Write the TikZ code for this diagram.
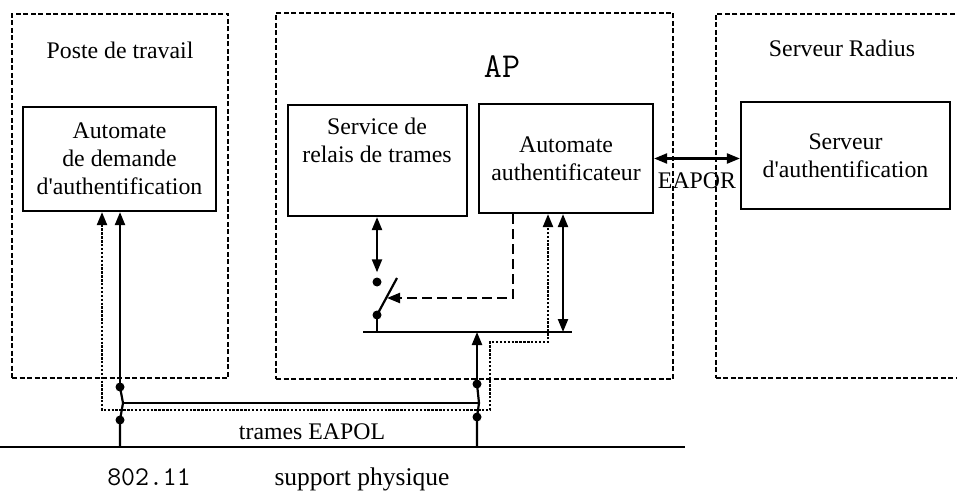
\documentclass[tikz,border=0pt]{standalone}
\usepackage{fontspec}
\setmainfont{Liberation Serif}
\usetikzlibrary{arrows.meta}

\begin{document}
\begin{tikzpicture}[x=1pt, y=-1pt,
	zone/.style={draw, line width=1.9pt, dash pattern=on 5pt off 2.5pt},
	bloc/.style={draw, line width=2.2pt, inner sep=0pt},
	txt/.style={font=\fontsize{23.8}{28}\selectfont, align=center},
	trait/.style={line width=2.2pt},
	fleche/.style={line width=2.2pt, >={Triangle[length=13pt,width=10pt]}},
	pointille/.style={line width=3pt, dash pattern=on 2.4pt off 1.5pt},
	tirets/.style={line width=2.4pt, dash pattern=on 10pt off 5pt},
	contact/.style={circle, fill, inner sep=0pt, minimum size=9pt}]
	\useasboundingbox (0,0) rectangle (957,494);
	\clip (0,0) rectangle (957,494);

	% les trois zones
	\node[zone, minimum width=216pt, minimum height=364pt] (poste) at (120,196) {};
	\node[zone, minimum width=397pt, minimum height=366pt] (ap) at (474.5,196) {};
	\node[zone, minimum width=260pt, minimum height=364pt, anchor=north west] (radius) at (715,13) {};

	\node[txt] (tposte) at (120,50) {Poste de travail};
	\node[font=\ttfamily\fontsize{35}{38}\selectfont] (tap) at (502,67) {AP};
	\node[txt] (tradius) at (842,48) {Serveur Radius};

	% automates
	\node[bloc, txt, minimum width=193pt, minimum height=104pt] (demande) at (119.5,159) {Automate\\de demande\\d\textquotesingle authentification};
	\node[bloc, minimum width=179pt, minimum height=111pt] (relais) at (377.5,160.5) {};
	\node[txt] (trelais) at (377,140) {Service de\\relais de trames};
	\node[bloc, txt, minimum width=174pt, minimum height=109pt] (auth) at (566,158.5) {Automate\\authentificateur};
	\node[bloc, txt, minimum width=209pt, minimum height=107pt] (serveur) at (845.5,155.5) {Serveur\\d\textquotesingle authentification};

	\draw[fleche, <->] (auth.east) -- (auth.east -| serveur.west);
	\node[txt] (eapor) at (697,181) {EAPOR};

	% interrupteur de l'AP
	\coordinate (bus1) at (363,332);
	\coordinate (bus2) at (572,332);
	\coordinate (levier) at (397,278);
	\coordinate (coude) at (513,298);
	\coordinate (cible) at (387,298);
	\coordinate (v) at (563,332);
	\node[contact] (haut) at (377,282) {};
	\node[contact] (bas) at (377,315) {};
	\draw[trait] (bus1) -- (bus2);
	\draw[trait] (bas.center) -- (levier);
	\draw[trait] (bas.center) -- (bas.center |- bus1);
	\draw[fleche, <->] (relais.south -| haut) -- ([yshift=5pt]haut.north);
	\draw[tirets, fleche, ->] (auth.south -| coude) -- (coude) -- (cible);
	\draw[fleche, <->] (auth.south -| v) -- (v);

	% support physique
	\coordinate (sol1) at (0,447);
	\coordinate (sol2) at (685,447);
	\coordinate (gk) at (123,403);
	\coordinate (dk) at (479,403);
	\node[contact] (g1) at (120,387) {};
	\node[contact] (g2) at (120,420) {};
	\node[contact] (d1) at (477,384) {};
	\node[contact] (d2) at (477,417) {};
	\draw[line width=2.6pt] (sol1) -- (sol2);
	\draw[fleche, ->] (g1.center) -- (g1 |- demande.south);
	\draw[trait] (g1.center) -- (gk) -- (g2.center) -- (g2 |- sol1);
	\draw[fleche, ->] (d1.center) -- (d1 |- bus1);
	\draw[trait] (d1.center) -- (dk) -- (d2.center) -- (d2 |- sol1);
	\draw[line width=1.6pt] (gk) -- (dk);

	\coordinate (p1) at (102,410);
	\coordinate (p2) at (490,410);
	\coordinate (p3) at (490,342);
	\coordinate (p4) at (548,342);
	\draw[pointille, fleche, <->] (demande.south -| p1) -- (p1) -- (p2) -- (p3) -- (p4) -- (auth.south -| p4);

	\node[txt] (eapol) at (312,432) {trames EAPOL};
	\node[font=\ttfamily\fontsize{27}{30}\selectfont] (norme) at (149,477) {802.11};
	\node[font=\fontsize{25.5}{28}\selectfont] (support) at (362,479) {support physique};
	% \draw[help lines, step=50] (0,0) grid (957,494);
\end{tikzpicture}
\end{document}
